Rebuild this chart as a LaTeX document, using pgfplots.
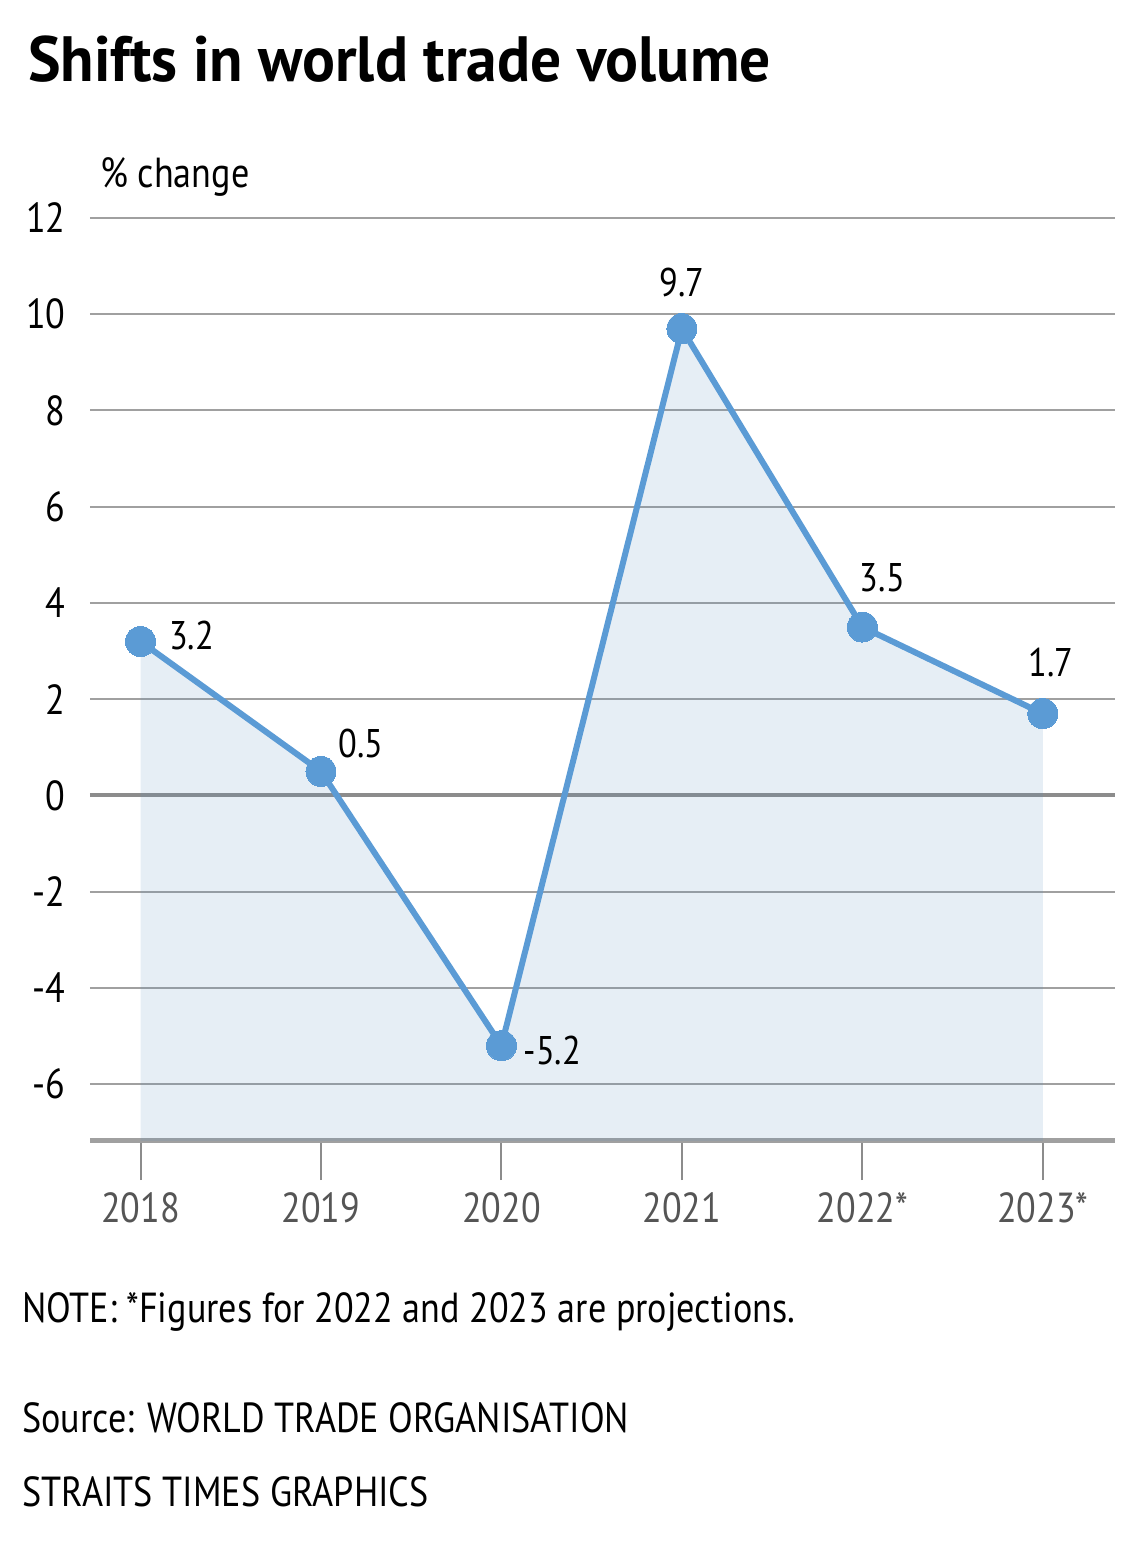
\documentclass[border=0pt]{standalone}
\usepackage{fontspec}
\setmainfont{PT Sans}[FakeStretch=0.86]
\newfontfamily\titlefont{PT Sans}[FakeStretch=0.96]
\usepackage{pgfplots}
\pgfplotsset{compat=1.18}
\definecolor{lineblue}{RGB}{91,155,213}
\definecolor{areatint}{RGB}{88,142,188}
\definecolor{gridgray}{RGB}{160,160,160}
\definecolor{zerogray}{RGB}{140,140,140}
\definecolor{ticklab}{RGB}{85,85,85}
\pgfplotsset{
  lab/.style 2 args={draw=none, mark=none, forget plot,
    nodes near coords, point meta=explicit symbolic,
    nodes near coords style={anchor=base, inner sep=0pt, xshift=#1, yshift=#2,
      text=black, font=\fontsize{20}{24}\selectfont}},
}
\begin{document}
\begin{tikzpicture}
\useasboundingbox (0,0) rectangle (570pt,771.5pt);
% titles and notes
\node[anchor=base west, inner sep=0, font=\titlefont\bfseries\fontsize{32}{36}\selectfont] at (14pt,730.5pt) {Shifts in world trade volume};
\node[anchor=base west, inner sep=0, font=\fontsize{21}{25}\selectfont] at (50pt,677.5pt) {\% change};
\node[anchor=base west, inner sep=0, font=\fontsize{21}{25}\selectfont] at (11pt,110pt) {NOTE: *Figures for 2022 and 2023 are projections.};
\node[anchor=base west, inner sep=0, font=\fontsize{21}{25}\selectfont] at (11pt,55pt) {Source: WORLD TRADE ORGANISATION};
\node[anchor=base west, inner sep=0, font=\fontsize{21}{25}\selectfont] at (11pt,18pt) {STRAITS TIMES GRAPHICS};

\begin{axis}[
  at={(45pt,201pt)}, anchor=south west,
  scale only axis, width=512.5pt, height=461.5pt,
  xmin=-0.28, xmax=5.4, ymin=-7.18, ymax=12,
  axis x line*=bottom, axis y line*=left,
  y axis line style={draw=none},
  x axis line style={draw=gridgray, line width=2.5pt},
  xtick={0,1,2,3,4,5},
  xticklabels={2018,2019,2020,2021,2022*,2023*},
  tick align=outside,
  major tick length=19.5pt,
  x tick style={draw=zerogray, line width=1pt},
  xticklabel style={anchor=base, yshift=-21pt, text=ticklab, font=\fontsize{21}{24}\selectfont},
  ytick={-6,-4,-2,0,2,4,6,8,10,12},
  yticklabels={-6,-4,-2,0,2,4,6,8,10,12},
  y tick style={draw=none},
  yticklabel style={anchor=east, inner sep=0pt, xshift=7.5pt, text=black, font=\fontsize{21}{24}\selectfont},
  ymajorgrids,
  grid style={draw=gridgray, line width=1pt},
  extra y ticks={0},
  extra y tick labels={},
  extra y tick style={grid style={draw=zerogray, line width=2pt}},
  clip=false,
]
% shaded area under the line
\addplot[draw=none, fill=areatint, fill opacity=0.15, forget plot]
  coordinates {(0,-7.18) (0,3.2) (1,0.5) (2,-5.2) (3,9.7) (4,3.5) (5,1.7) (5,-7.18)};

\addplot[lineblue, line width=3pt, mark=*, mark size=7.5pt,
  mark options={fill=lineblue, draw=lineblue, line width=0pt}]
  coordinates {(0,3.2) (1,0.5) (2,-5.2) (3,9.7) (4,3.5) (5,1.7)};

% value labels
\addplot[lab={25.5pt}{-4pt}]   coordinates {(0,3.2) [3.2]};
\addplot[lab={20pt}{7pt}]      coordinates {(1,0.5) [0.5]};
\addplot[lab={25.5pt}{-9.5pt}] coordinates {(2,-5.2) [-5.2]};
\addplot[lab={0pt}{16pt}]      coordinates {(3,9.7) [9.7]};
\addplot[lab={10pt}{18pt}]     coordinates {(4,3.5) [3.5]};
\addplot[lab={4pt}{18.5pt}]    coordinates {(5,1.7) [1.7]};
\end{axis}
\end{tikzpicture}
\end{document}
